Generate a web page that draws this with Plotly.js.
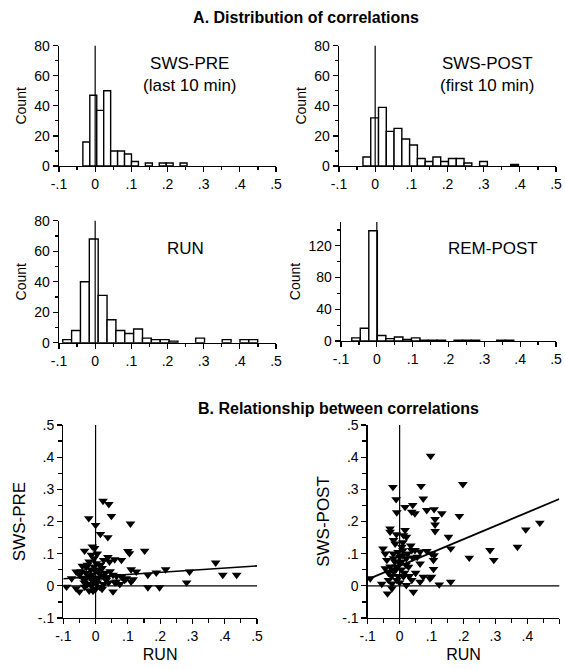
<!DOCTYPE html>
<html><head><meta charset="utf-8">
<script src="https://cdn.plot.ly/plotly-3.0.1.min.js"></script>
<style>html,body{margin:0;padding:0;background:#fff}#chart{width:565px;height:669px}</style>
</head><body><div id="chart"></div>
<script>
// ---------- DATA ----------
// Histogram: SWS-PRE (last 10 min)
const swsPreBins   = [-0.0244, -0.0052, 0.014, 0.0332, 0.0524, 0.0716, 0.0908, 0.110, 0.1484, 0.1868, 0.206, 0.2444];
const swsPreCounts = [16, 47, 37, 50, 10, 10, 8, 3, 2, 2, 2, 2];
// Histogram: SWS-POST (first 10 min)
const swsPostBins   = [-0.023, -0.0015, 0.020, 0.0415, 0.063, 0.0845, 0.106, 0.1275, 0.149, 0.1705, 0.192, 0.2135, 0.235, 0.2565, 0.2995, 0.3855];
const swsPostCounts = [6, 32, 39, 23, 25, 18, 14, 5, 3, 6, 3, 5, 5, 2, 3, 1];
// Histogram: RUN
const runBins   = [-0.0774, -0.0529, -0.0284, -0.0039, 0.0206, 0.0451, 0.0696, 0.0941, 0.1186, 0.1431, 0.1676, 0.1921, 0.2166, 0.2901, 0.3636, 0.4126, 0.4371];
const runCounts = [2, 8, 40, 68, 31, 15, 8, 6, 9, 3, 2, 2, 1, 3, 2, 2, 2];
// Histogram: REM-POST
const remBins   = [-0.0581, -0.0343, -0.0105, 0.0133, 0.0371, 0.0609, 0.0847, 0.1085, 0.1323, 0.1561, 0.1799, 0.2275, 0.2513, 0.2751, 0.3465, 0.3703];
const remCounts = [4, 16, 139, 7, 3, 5, 2, 4, 1, 1, 1, 1, 1, 1, 1, 1];

// Scatter: RUN vs SWS-PRE
const runVsPreX = [0.023,0.041,0.049,-0.021,0.108,0.0,0.015,0.038,-0.01,-0.003,-0.034,0.1,0.105,-0.013,0.038,0.059,0.08,0.043,-0.041,-0.029,0.002,0.11,-0.06,-0.05,0.012,0.054,0.08,0.095,-0.074,-0.034,-0.008,0.033,0.064,0.09,0.11,-0.09,-0.06,-0.034,-0.013,0.012,-0.05,-0.008,0.054,0.152,0.126,0.162,0.188,0.217,0.291,0.372,0.394,0.437,0.116,0.162,0.198,0.282,-0.02,0.0,0.01,-0.015,0.02,0.005,-0.025,0.025,-0.04,0.03,0.0,-0.01,0.015,-0.005,0.04,-0.045,0.0,0.02,-0.02,0.035,0.045,0.065,0.075,0.06,-0.03,-0.02,0.025,-0.005,0.005,-0.035,0.02,-0.012,0.01,-0.025];
const runVsPreY = [0.264,0.254,0.217,0.21,0.193,0.189,0.161,0.151,0.122,0.117,0.109,0.108,0.101,0.096,0.089,0.082,0.08,0.075,0.062,0.058,0.07,0.051,0.044,0.034,0.039,0.034,0.028,0.023,0.023,0.018,0.013,0.018,0.013,0.018,0.013,-0.003,-0.008,-0.003,0.0,-0.003,-0.018,-0.016,-0.018,0.109,0.044,0.034,0.041,0.051,0.044,0.072,0.034,0.034,0.02,-0.005,-0.005,0.01,0.03,0.045,0.025,0.05,0.055,0.01,0.005,0.005,0.025,0.04,0.02,0.035,0.065,0.06,0.01,0.045,-0.01,-0.01,-0.015,0.025,0.045,0.03,0.005,0.01,0.04,0.075,0.08,0.085,0.1,0.01,0.03,0.022,0.05,0.065];
// Scatter: RUN vs SWS-POST
const runVsPostX = [0.097,0.198,-0.021,0.067,-0.011,0.074,0.017,0.041,-0.009,0.038,0.048,0.085,0.108,0.132,0.187,0.111,0.111,0.111,-0.03,-0.03,0.017,0.012,0.021,-0.019,-0.014,-0.052,0.007,0.038,0.048,0.064,0.085,0.108,0.153,0.1,0.16,0.106,0.218,0.283,0.295,0.369,0.395,0.439,0.106,0.1,0.124,0.16,-0.04,-0.019,0.0,0.021,0.041,0.064,-0.092,-0.045,-0.019,0.005,0.028,-0.035,-0.009,0.012,0.038,0.074,0.095,0.064,0.021,-0.024,-0.038,0.043,-0.056,-0.024,-0.01,0.0,-0.02,0.01,-0.03,0.015,-0.005,0.02,-0.025,0.0,-0.015,0.01,-0.035,0.03,-0.005,0.005,0.025,-0.012,0.01,0.05,0.055,-0.045,0.035,-0.01];
const runVsPostY = [0.404,0.316,0.307,0.31,0.269,0.271,0.245,0.251,0.228,0.23,0.225,0.235,0.238,0.225,0.217,0.207,0.19,0.17,0.178,0.168,0.173,0.157,0.152,0.142,0.131,0.116,0.121,0.111,0.111,0.106,0.108,0.095,0.152,0.1,0.116,0.08,0.087,0.111,0.08,0.121,0.175,0.196,0.052,0.028,0.004,0.0125,0.08,0.085,0.09,0.085,0.088,0.069,0.023,0.054,0.043,0.05,0.059,0.018,0.018,0.029,0.018,0.028,0.023,0.0125,0.002,0.007,-0.024,-0.019,0.006,-0.008,0.06,0.07,0.1,0.11,0.06,0.04,0.03,0.065,0.03,0.01,0.075,0.095,0.04,0.03,0.105,0.075,0.1,0.05,0.135,0.04,0.09,0.1,0.125,0.16];
// Regression lines
const fitX = [-0.1, 0.5];
const fitPreY = [0.022, 0.062];
const fitPostY = [0.02, 0.27];

const xTickVals = [-0.1, 0, 0.1, 0.2, 0.3, 0.4, 0.5];
const xTickText = ['-.1', '0', '.1', '.2', '.3', '.4', '.5'];
const yScatterTickVals = [-0.1, 0, 0.1, 0.2, 0.3, 0.4, 0.5];
const yScatterTickText = ['-.1', '0', '.1', '.2', '.3', '.4', '.5'];

// ---------- LAYOUT ----------
const W = 565, H = 669;
const FONT = 'Liberation Sans, Arial, Helvetica, sans-serif';
const dx = (a, b) => [a / W, b / W];
const dy = (top, bottom) => [1 - bottom / H, 1 - top / H];

function baseAxis(extra) {
  return Object.assign({
    showline: true, linecolor: 'black', linewidth: 1.3,
    ticks: 'outside', ticklen: 5, tickwidth: 1.2, tickcolor: 'black',
    showgrid: false, zeroline: false, fixedrange: true,
    tickfont: {family: FONT, size: 14, color: 'black'}
  }, extra);
}
function histX(domain, anchor) {
  return baseAxis({domain, anchor, range: [-0.1, 0.5], tickmode: 'array', tickvals: xTickVals, ticktext: xTickText,
    minor: {tickmode: 'linear', tick0: -0.1, dtick: 0.05, ticks: 'outside', ticklen: 3, tickcolor: 'black'}});
}
function histY(domain, anchor, range, vals, minorD) {
  return baseAxis({domain, anchor, range, tickmode: 'array', tickvals: vals,
    title: {text: 'Count', font: {family: FONT, size: 14, color: 'black'}, standoff: 4},
    minor: {tickmode: 'linear', tick0: 0, dtick: minorD, ticks: 'outside', ticklen: 3, tickcolor: 'black'}});
}
function scatX(domain, anchor) {
  return baseAxis({domain, anchor, range: [-0.1, 0.5], tickmode: 'array', tickvals: xTickVals, ticktext: xTickText,
    title: {text: 'RUN', font: {family: FONT, size: 16, color: 'black'}, standoff: 5},
    minor: {tickmode: 'linear', tick0: -0.1, dtick: 0.05, ticks: 'outside', ticklen: 4, tickcolor: 'black'}});
}
function scatY(domain, anchor, title) {
  return baseAxis({domain, anchor, range: [-0.1, 0.5], tickmode: 'array', tickvals: yScatterTickVals, ticktext: yScatterTickText,
    title: {text: title, font: {family: FONT, size: 17, color: 'black'}, standoff: 8},
    minor: {tickmode: 'linear', tick0: -0.1, dtick: 0.05, ticks: 'outside', ticklen: 4, tickcolor: 'black'}});
}

const barStyle = {color: 'white', line: {color: 'black', width: 1.4}};
function bars(x, y, w, xa, ya) {
  return {type: 'bar', x, y, width: w, xaxis: xa, yaxis: ya, marker: barStyle, hoverinfo: 'skip', showlegend: false};
}
const tri = {symbol: 'triangle-down', size: 8.5, color: 'black', line: {width: 0}};

const data = [
  bars(swsPreBins, swsPreCounts, 0.0192, 'x', 'y'),
  bars(swsPostBins, swsPostCounts, 0.0215, 'x2', 'y2'),
  bars(runBins, runCounts, 0.0245, 'x3', 'y3'),
  bars(remBins, remCounts, 0.0238, 'x4', 'y4'),
  {type: 'scatter', mode: 'markers', x: runVsPreX, y: runVsPreY, xaxis: 'x5', yaxis: 'y5', marker: tri, showlegend: false},
  {type: 'scatter', mode: 'lines', x: fitX, y: fitPreY, xaxis: 'x5', yaxis: 'y5', line: {color: 'black', width: 1.6}, showlegend: false},
  {type: 'scatter', mode: 'markers', x: runVsPostX, y: runVsPostY, xaxis: 'x6', yaxis: 'y6', marker: tri, showlegend: false},
  {type: 'scatter', mode: 'lines', x: fitX, y: fitPostY, xaxis: 'x6', yaxis: 'y6', line: {color: 'black', width: 1.8}, showlegend: false}
];

function vline(xa, ya) {
  return {type: 'line', xref: xa, yref: ya + ' domain', x0: 0, x1: 0, y0: 0, y1: 1, line: {color: 'black', width: 1.2}, layer: 'above'};
}
function hline(xa, ya) {
  return {type: 'line', xref: xa + ' domain', yref: ya, x0: 0, x1: 1, y0: 0, y1: 0, line: {color: 'black', width: 1.2}, layer: 'above'};
}

const ann = (text, x, y, size, extra) => Object.assign({text, xref: 'paper', yref: 'paper', x: x / W, y: 1 - y / H,
  xanchor: 'center', yanchor: 'middle', showarrow: false, font: {family: FONT, size, color: 'black'}}, extra || {});

const layout = {
  width: W, height: H,
  margin: {l: 0, r: 0, t: 0, b: 0},
  paper_bgcolor: 'white', plot_bgcolor: 'white',
  font: {family: FONT, color: 'black'},
  showlegend: false,
  title: {text: '<b>A. Distribution of correlations</b>', x: 306 / W, xanchor: 'center', y: 1 - 17 / H, yanchor: 'middle',
    font: {family: FONT, size: 16, color: 'black'}},
  xaxis: histX(dx(59, 276), 'y'),
  yaxis: histY(dy(45.7, 166), 'x', [0, 80], [0, 20, 40, 60, 80], 10),
  xaxis2: histX(dx(339, 556), 'y2'),
  yaxis2: histY(dy(45.7, 166), 'x2', [0, 80], [0, 20, 40, 60, 80], 10),
  xaxis3: histX(dx(59, 276), 'y3'),
  yaxis3: histY(dy(220.7, 342.7), 'x3', [0, 80], [0, 20, 40, 60, 80], 10),
  xaxis4: histX(dx(341, 556), 'y4'),
  yaxis4: histY(dy(222, 341), 'x4', [0, 150], [0, 40, 80, 120], 20),
  xaxis5: scatX(dx(63.3, 257), 'y5'),
  yaxis5: scatY(dy(425, 618), 'x5', 'SWS-PRE'),
  xaxis6: scatX(dx(367.7, 559.3), 'y6'),
  yaxis6: scatY(dy(425, 618), 'x6', 'SWS-POST'),
  shapes: [vline('x', 'y'), vline('x2', 'y2'), vline('x3', 'y3'), vline('x4', 'y4'),
           vline('x5', 'y5'), hline('x5', 'y5'), vline('x6', 'y6'), hline('x6', 'y6')],
  annotations: [
    ann('SWS-PRE<br>(last 10 min)', 190, 74, 17),
    ann('SWS-POST<br>(first 10 min)', 487, 74, 17),
    ann('RUN', 185, 248, 17),
    ann('REM-POST', 493, 248, 17),
    ann('<b>B. Relationship between correlations</b>', 338, 408, 16)
  ]
};

Plotly.newPlot('chart', data, layout, {staticPlot: true, displayModeBar: false});
</script></body></html>
